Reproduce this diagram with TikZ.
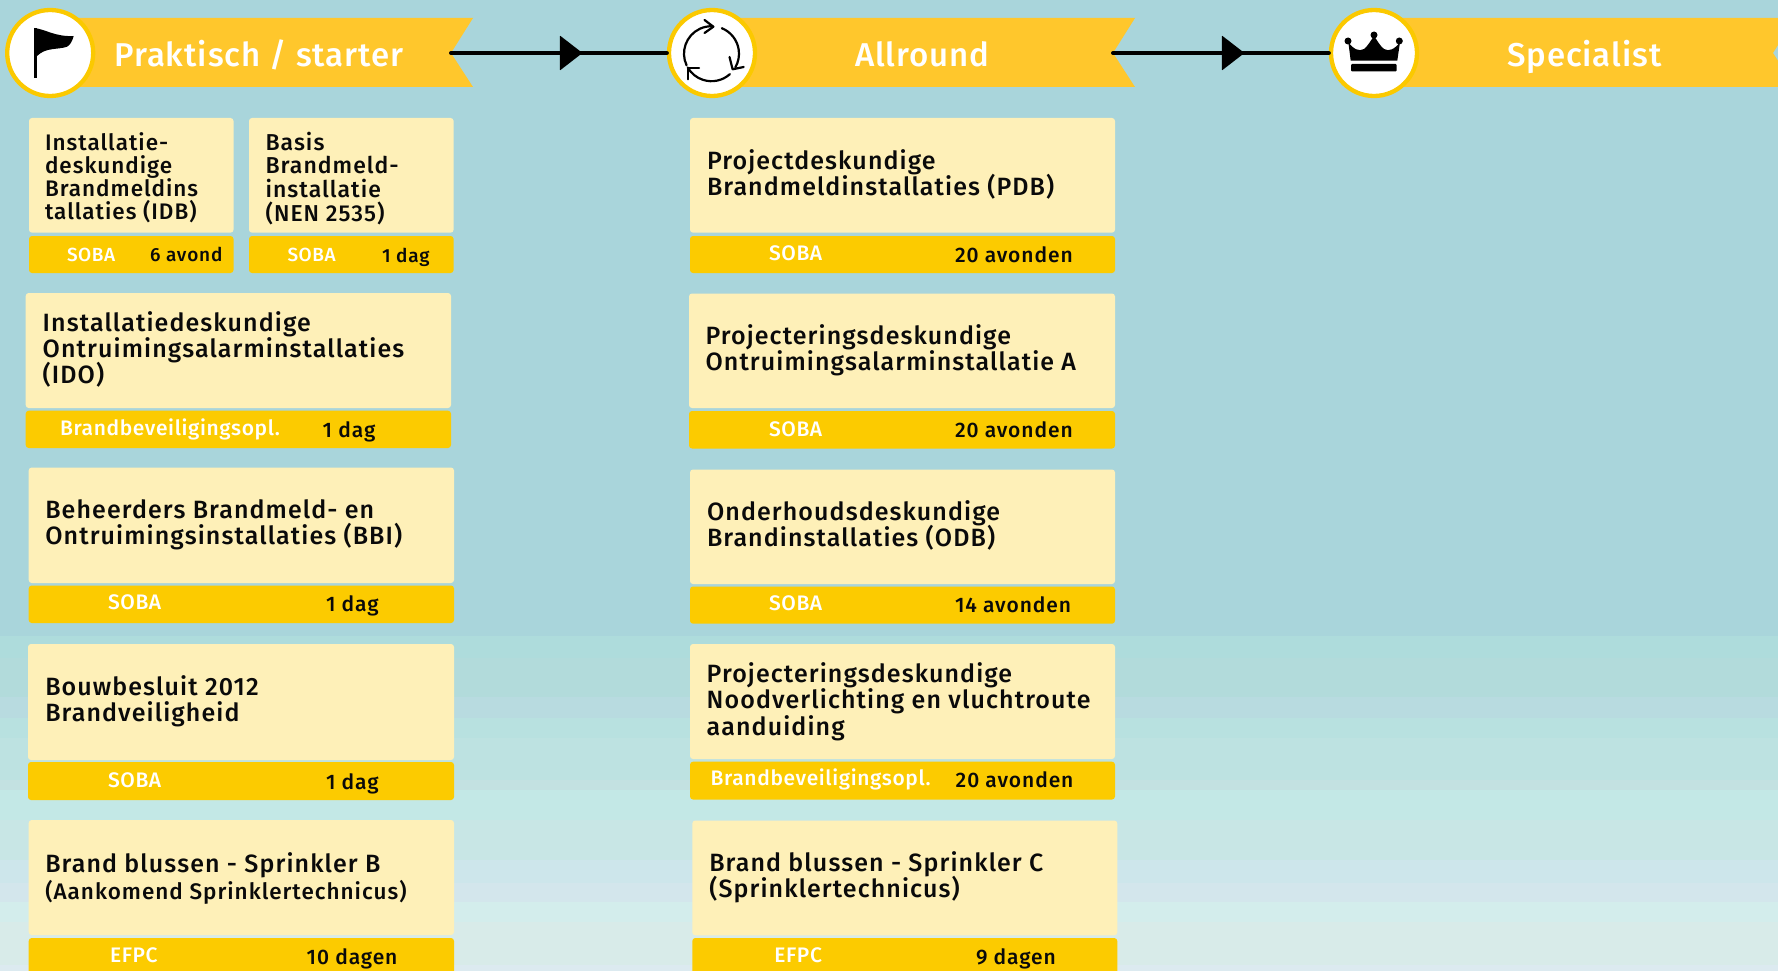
\documentclass[tikz,border=0pt]{standalone}
\usepackage{fontspec}
\usetikzlibrary{decorations.markings}
\setmainfont{Fira Sans Medium}[LetterSpace=4.4]
\newfontfamily\lightface{Fira Sans Medium}[LetterSpace=3]
\newfontfamily\titleface{Fira Sans Medium}[LetterSpace=2.8]
\definecolor{bgtop}{HTML}{A9D5DB}
\definecolor{bannerY}{HTML}{FFC72C}
\definecolor{ringY}{HTML}{FBC900}
\definecolor{stripY}{HTML}{FCCB00}
\definecolor{cardY}{HTML}{FEF0B8}
\definecolor{inkK}{HTML}{0A0A0A}
\tikzset{
  x=1pt,y=-1pt,
  banner/.style={fill=bannerY,draw=none},
  badge/.style={circle,draw=ringY,line width=4.3pt,fill=white,minimum size=86pt,inner sep=0pt},
  cardrect/.style={fill=cardY,rounded corners=3pt},
  striprect/.style={fill=stripY,rounded corners=3pt},
  icon/.style={draw=black,line width=2.2pt,line cap=round,line join=round},
  flow/.style={draw=black,line width=4pt,line cap=round,postaction={decorate},
    decoration={markings,mark=at position #1 with {\fill[black,rounded corners=0.8pt] (-22.6pt,-17.5pt) -- (0pt,0pt) -- (-22.6pt,17.5pt) -- cycle;}}},
  textlabel/.style={anchor=base west,inner sep=0pt,outer sep=0pt}
}
% black label: name, x, y, size, text
\newcommand\tl[5]{\node[textlabel,text=inkK] (#1) at (#2,#3) {\fontsize{#4}{#4}\selectfont #5};}
% white label: name, x, y, size, text
\newcommand\wl[5]{\node[textlabel,text=white] (#1) at (#2,#3) {\lightface\fontsize{#4}{#4}\selectfont #5};}
% multi-line label: name, x, y, size, leading, width, text
\newcommand\ml[7]{\node[textlabel,text=inkK] (#1) at (#2,#3) {\parbox[t]{#6pt}{\raggedright\lineskiplimit=-100pt\fontsize{#4}{#5}\selectfont #7}};}
% card and strip: x1, x2, y1, y2, y3, y4
\newcommand\cardpair[6]{\path[cardrect] (#1,#3) rectangle (#2,#4);\path[striprect] (#1,#5) rectangle (#2,#6);}
\begin{document}
\begin{tikzpicture}
\clip (0,0) rectangle (1778,971);
% background bands
\fill[bgtop] (0,0) rectangle (1778,971);
\foreach \ya/\yb/\c in {636/658/AEDCDC,658/697/B2DBDB,697/718/B8DBE0,718/738/B8E1E0,738/780/BDE2E1,780/790/C3E1E1,790/820/C3E8E6,820/860/C8E6E5,860/883/CDE6EB,883/902/D3E6EC,902/922/D3EDEC,922/965/D8EBE9,965/971/DCEAF0}{
  \definecolor{bandc}{HTML}{\c}
  \fill[bandc] (0,\ya) rectangle (1778,\yb);
}
% banners
\path[banner] (50,18) -- (473,18) -- (451,53) -- (473,87) -- (50,87) -- cycle;
\path[banner] (712,18) -- (1135,18) -- (1113,53) -- (1135,87) -- (712,87) -- cycle;
\path[banner] (1374,18) -- (1795,18) -- (1773,53) -- (1795,87) -- (1374,87) -- cycle;
\coordinate (notchA) at (451,53);
\coordinate (notchB) at (1113,53);
% badges
\node[badge] (badgeA) at (50.2,53) {};
\node[badge] (badgeB) at (712,53) {};
\node[badge] (badgeC) at (1374,53) {};
% connectors
\path[flow=0.609] (notchA) -- (badgeB.west);
\path[flow=0.609] (notchB) -- (badgeC.west);
% flag icon
\fill[black] (33.5,28) -- (37,28) -- (37,77.7) -- (33.5,77.7) -- cycle;
\fill[black] (34,28) .. controls (45,29) and (55,37) .. (73.7,36) .. controls (72,42) and (70,45) .. (67,46.7) .. controls (58,50) and (46,47) .. (37,56) -- (34,56) -- cycle;
% cycle icon
\begin{scope}[shift={(711.5,53.7)},x=1pt,y=1pt]
\draw[icon] (205:27.5) arc (205:88:27.5);
\draw[icon] (68:27.5) arc (68:-30:27.5);
\draw[icon] (-48:27.5) arc (-48:-150:27.5);
\end{scope}
\draw[icon] (704.5,20) -- (713.4,26.7) -- (704.5,33);
\draw[icon] (729.5,57) -- (732.6,69.3) -- (743.7,67);
\draw[icon] (688,79.3) -- (688,68.3) -- (699,68.3);
% crown icon
\fill[black] (1348.3,42) -- (1350.7,60.7) -- (1397.3,60.7) -- (1400,42) .. controls (1395,49) and (1389,52) .. (1384,49) .. controls (1380,46) and (1377,40) .. (1374,36) .. controls (1371,40) and (1368,46) .. (1364,49) .. controls (1359,52) and (1353,49) .. (1348.3,42) -- cycle;
\fill[black] (1348,41) circle (3.5);
\fill[black] (1374,35) circle (3.5);
\fill[black] (1399.3,41) circle (3.5);
\fill[black,rounded corners=1pt] (1351,64) rectangle (1396.7,71.3);
% banner titles
\node[textlabel,text=white] (titleA) at (114.5,66.5) {\titleface\fontsize{33}{33}\selectfont Praktisch / starter};
\node[textlabel,text=white] (titleB) at (855,66.5) {\titleface\fontsize{33}{33}\selectfont Allround};
\node[textlabel,text=white] (titleC) at (1507,66.5) {\titleface\fontsize{33}{33}\selectfont Specialist};
% cards: left column
\cardpair{29}{233.5}{118}{232.7}{236}{273}
\ml{tIDB}{45}{150}{22.5}{23.3}{180}{Installatie-\\deskundige\\Brandmeldins\\tallaties (IDB)}
\wl{sIDB}{67}{261}{19}{SOBA}
\tl{dIDB}{150}{261.5}{19}{6 avond}
\cardpair{249}{453.6}{118}{232.7}{236}{273}
\ml{tNEN}{265.6}{150}{23}{23.7}{180}{Basis\\Brandmeld-\\installatie\\(NEN 2535)}
\wl{sNEN}{287.5}{261}{19}{SOBA}
\tl{dNEN}{382}{262}{19}{1 dag}
\cardpair{25.7}{451}{293}{408}{410.7}{448}
\ml{tIDO}{42.7}{331.7}{25}{26}{400}{Installatiedeskundige\\Ontruimingsalarminstallaties\\(IDO)}
\wl{sIDO}{60}{435}{21}{Brandbeveiligingsopl.}
\tl{dIDO}{322.7}{437}{21}{1 dag}
\cardpair{28.7}{454}{467.5}{583}{585.5}{623}
\ml{tBBI}{45.3}{518}{25}{26.3}{400}{Beheerders Brandmeld- en\\Ontruimingsinstallaties (BBI)}
\wl{sBBI}{108}{609}{21}{SOBA}
\tl{dBBI}{326}{611}{21}{1 dag}
\cardpair{28}{454}{644}{760}{762}{800}
\ml{tBB}{45.3}{695}{25}{26}{400}{Bouwbesluit 2012\\Brandveiligheid}
\wl{sBB}{108}{787}{21}{SOBA}
\tl{dBB}{326}{789}{21}{1 dag}
\cardpair{28.7}{454}{820}{935}{938}{985}
\ml{tSB}{45.3}{872.7}{25}{26.3}{400}{Brand blussen - Sprinkler B\\{\fontsize{22.5}{26.3}\selectfont (Aankomend Sprinklertechnicus)}}
\wl{sSB}{110}{962.7}{21}{EFPC}
\tl{dSB}{306.7}{964}{21}{10 dagen}
% cards: right column
\cardpair{690}{1115}{118}{232.7}{236}{273}
\ml{tPDB}{707}{170}{25}{25.5}{400}{Projectdeskundige\\Brandmeldinstallaties (PDB)}
\wl{sPDB}{769}{260}{21}{SOBA}
\tl{dPDB}{955}{262}{21}{20 avonden}
\cardpair{689}{1115}{293.5}{408}{411}{448.5}
\ml{tOA}{705.5}{344.5}{25}{26}{400}{Projecteringsdeskundige\\Ontruimingsalarminstallatie A}
\wl{sOA}{769}{436}{21}{SOBA}
\tl{dOA}{955}{437.5}{21}{20 avonden}
\cardpair{690}{1115}{469.5}{584}{586.5}{623.7}
\ml{tODB}{707}{520.5}{25}{26}{400}{Onderhoudsdeskundige\\Brandinstallaties (ODB)}
\wl{sODB}{769}{610.5}{21}{SOBA}
\tl{dODB}{955}{612.5}{21}{14 avonden}
\cardpair{690}{1115}{644}{759}{761.7}{799.5}
\ml{tNV}{706.7}{682.7}{25}{26.2}{400}{Projecteringsdeskundige\\Noodverlichting en vluchtroute\\aanduiding}
\wl{sNV}{710.7}{785.7}{21}{Brandbeveiligingsopl.}
\tl{dNV}{955.7}{787.7}{21}{20 avonden}
\cardpair{692.3}{1117.3}{820.5}{935.3}{938}{985}
\ml{tSC}{709.3}{871.7}{25}{26}{400}{Brand blussen - Sprinkler C\\(Sprinklertechnicus)}
\wl{sSC}{774.3}{962.7}{21}{EFPC}
\tl{dSC}{976}{964}{21}{9 dagen}
\end{tikzpicture}
\end{document}
